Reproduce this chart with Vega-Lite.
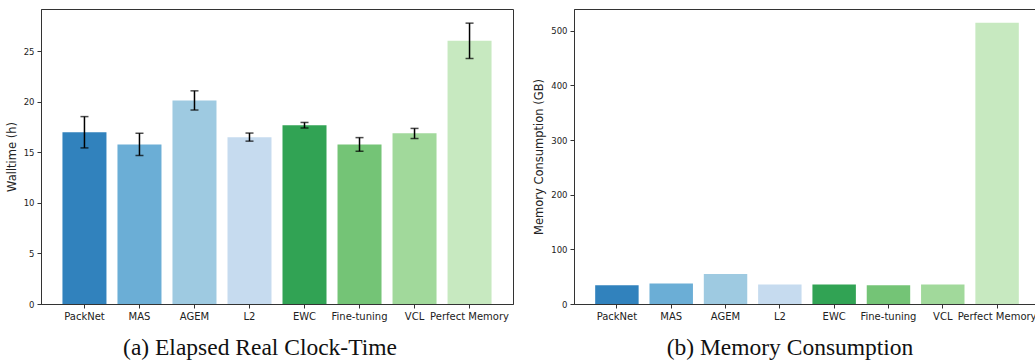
{
  "$schema": "https://vega.github.io/schema/vega-lite/v6.json",
  "padding": {"left": 5, "top": 8, "right": 0, "bottom": 0},
  "background": "white",
  "datasets": {
    "runs": [
      {"method": "PackNet", "walltime": 17.0, "lo": 15.45, "hi": 18.55, "memory": 34.3},
      {"method": "MAS", "walltime": 15.8, "lo": 14.7, "hi": 16.9, "memory": 37.4},
      {"method": "AGEM", "walltime": 20.15, "lo": 19.2, "hi": 21.1, "memory": 55.0},
      {"method": "L2", "walltime": 16.5, "lo": 16.12, "hi": 16.92, "memory": 35.6},
      {"method": "EWC", "walltime": 17.7, "lo": 17.42, "hi": 17.97, "memory": 35.6},
      {"method": "Fine-tuning", "walltime": 15.8, "lo": 15.12, "hi": 16.47, "memory": 34.3},
      {"method": "VCL", "walltime": 16.9, "lo": 16.38, "hi": 17.38, "memory": 35.6},
      {"method": "Perfect Memory", "walltime": 26.05, "lo": 24.3, "hi": 27.8, "memory": 514.8}
    ]
  },
  "config": {
    "font": "DejaVu Sans",
    "view": {"stroke": "#333", "strokeWidth": 1},
    "concat": {"spacing": 61},
    "axis": {
      "labelFont": "DejaVu Sans", "labelColor": "#222",
      "titleFont": "DejaVu Sans", "titleFontSize": 11.5, "titleFontWeight": "normal", "titleColor": "#222",
      "domainColor": "#333", "tickColor": "#333", "tickSize": 4, "labelPadding": 3, "grid": false
    },
    "axisX": {"labelFontSize": 10},
    "axisY": {"labelFontSize": 8.5},
    "title": {"font": "Liberation Serif", "fontSize": 23.5, "fontWeight": "normal", "color": "#111", "orient": "bottom", "anchor": "middle"}
  },
  "bounds": "flush",
  "hconcat": [
    {
      "width": 472, "height": 295,
      "title": {"text": "(a) Elapsed Real Clock-Time", "offset": 15, "dx": -17},
      "data": {"name": "runs"},
      "encoding": {
        "x": {"field": "method", "type": "nominal", "sort": null,
              "scale": {"paddingInner": 0.2, "paddingOuter": 0.39},
              "axis": {"title": null, "labelAngle": 0}}
      },
      "layer": [
        {
          "mark": {"type": "bar"},
          "encoding": {
            "y": {"field": "walltime", "type": "quantitative",
                  "scale": {"domain": [0, 29.2], "nice": false},
                  "axis": {"title": "Walltime (h)", "values": [0, 5, 10, 15, 20, 25], "titlePadding": 6}},
            "color": {"field": "method", "type": "nominal", "sort": null, "legend": null,
                      "scale": {"range": ["#3182bd", "#6baed6", "#9ecae1", "#c6dbef", "#31a354", "#74c476", "#a1d99b", "#c7e9c0"]}}
          }
        },
        {
          "mark": {"type": "errorbar", "color": "black", "thickness": 1.5, "ticks": {"size": 8, "thickness": 1.5, "color": "black"}},
          "encoding": {
            "y": {"field": "lo", "type": "quantitative", "title": "Walltime (h)"},
            "y2": {"field": "hi"}
          }
        }
      ]
    },
    {
      "width": 466, "height": 295,
      "title": {"text": "(b) Memory Consumption", "offset": 15, "dx": -17},
      "data": {"name": "runs"},
      "mark": {"type": "bar"},
      "encoding": {
        "x": {"field": "method", "type": "nominal", "sort": null,
              "scale": {"paddingInner": 0.2, "paddingOuter": 0.39},
              "axis": {"title": null, "labelAngle": 0}},
        "y": {"field": "memory", "type": "quantitative",
              "scale": {"domain": [0, 540], "nice": false},
              "axis": {"title": "Memory Consumption (GB)", "values": [0, 100, 200, 300, 400, 500], "titlePadding": 6}},
        "color": {"field": "method", "type": "nominal", "sort": null, "legend": null,
                  "scale": {"range": ["#3182bd", "#6baed6", "#9ecae1", "#c6dbef", "#31a354", "#74c476", "#a1d99b", "#c7e9c0"]}}
      }
    }
  ]
}
